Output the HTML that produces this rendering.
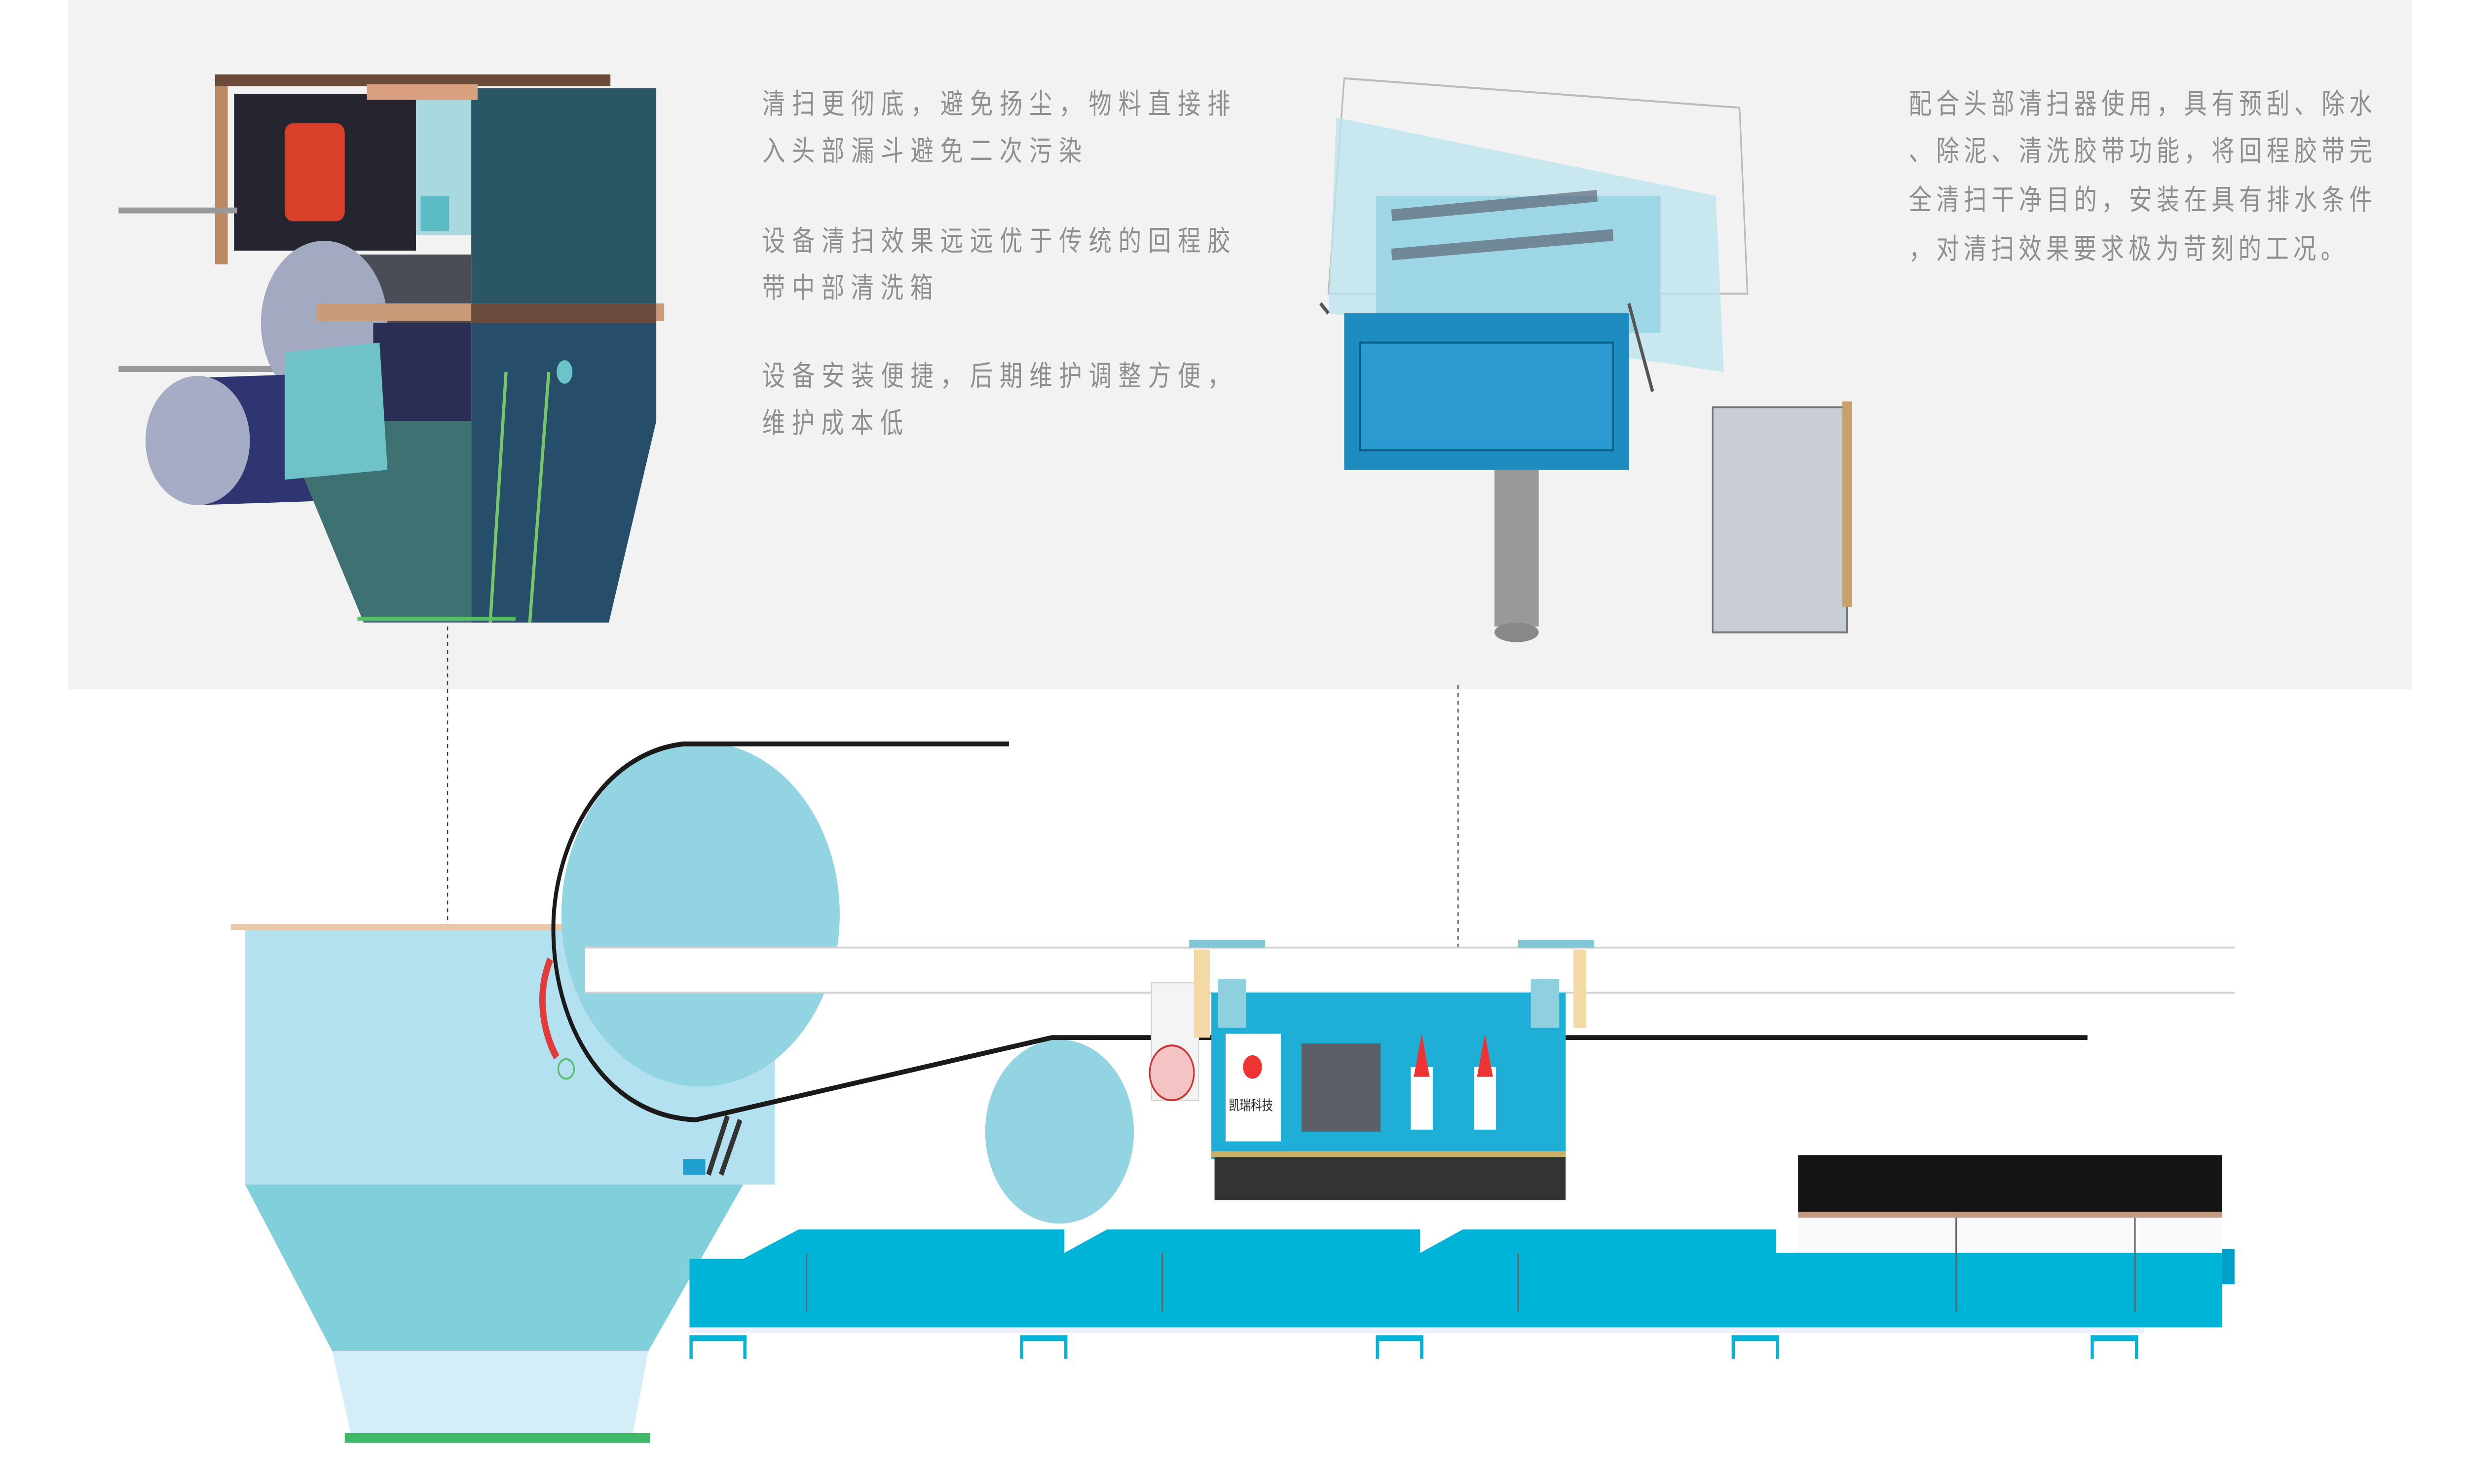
<!DOCTYPE html>
<html><head><meta charset="utf-8"><style>
html,body{margin:0;padding:0;background:#fff;width:100%;height:100%;overflow:hidden;}
svg{display:block;position:fixed;left:0;top:0;width:100vw;height:100vh;}
text{font-family:"Liberation Sans","Noto Sans CJK SC",sans-serif;fill:#8f8f8f;font-size:14.5px;}
</style></head><body>
<svg viewBox="0 0 1560 758" preserveAspectRatio="none" xmlns="http://www.w3.org/2000/svg">
<rect x="0" y="0" width="1560" height="758" fill="#fff"/>
<rect x="43" y="0" width="1482" height="352" fill="#f2f2f2"/>

<rect x="136" y="40" width="8" height="95" fill="#b98a63"/>
<rect x="136" y="38" width="250" height="6" fill="#6a4a38"/>
<rect x="148" y="48" width="115" height="80" fill="#24252f"/>
<rect x="263" y="50" width="36" height="70" fill="#a9d8df"/>
<rect x="180" y="63" width="38" height="50" rx="5" fill="#d8402a"/>
<rect x="75" y="106" width="75" height="3" fill="#999"/>
<rect x="75" y="187" width="100" height="3" fill="#999"/>
<path d="M200 130 L298 130 L298 200 L200 200 Z" fill="#4a4d55"/>
<ellipse cx="205" cy="165" rx="40" ry="42" fill="#a2a9c1"/>
<path d="M125 193 L230 190 L235 255 L125 258 Z" fill="#2f3570"/>
<ellipse cx="125" cy="225" rx="33" ry="33" fill="#a6acc6"/>
<rect x="298" y="45" width="117" height="115" fill="#2b5666"/>
<rect x="200" y="155" width="220" height="9" fill="#c99b78"/>
<rect x="298" y="155" width="117" height="10" fill="#6b4b3c"/>
<path d="M298 165 L415 165 L415 215 L385 318 L298 318 Z" fill="#264d6a"/>
<path d="M240 215 L298 215 L298 318 L230 318 L190 240 Z" fill="#3e7171"/>
<rect x="236" y="165" width="62" height="50" fill="#2c2d55"/>
<path d="M180 180 L240 175 L245 240 L180 245 Z" fill="#6fc3c8"/>
<rect x="232" y="43" width="70" height="8" fill="#d8a07e"/>
<rect x="266" y="100" width="18" height="18" fill="#5cbcc6"/>
<path d="M320 190 L310 318 M347 190 L335 318" stroke="#79c66a" stroke-width="2"/>
<ellipse cx="357" cy="190" rx="5" ry="6" fill="#6cc4c8"/>
<rect x="226" y="315" width="100" height="2" fill="#5bbf6a"/>

<path d="M850 40 L1100 55 L1105 150 L840 150 Z" fill="none" stroke="#bbb" stroke-width="1"/>
<path d="M845 60 L1085 100 L1090 190 L840 160 Z" fill="#bde4ee" opacity="0.8"/>
<rect x="870" y="100" width="180" height="70" fill="#9dd6e4"/>
<path d="M880 110 L1010 100 M880 130 L1020 120" stroke="#556" stroke-width="6" opacity="0.6"/>
<rect x="850" y="160" width="180" height="80" fill="#1e8cc0"/>
<rect x="860" y="175" width="160" height="55" fill="#2a9ad0" stroke="#0b5c85" stroke-width="1"/>
<rect x="945" y="240" width="28" height="80" fill="#999"/>
<ellipse cx="959" cy="323" rx="14" ry="5" fill="#888"/>
<rect x="1083" y="208" width="85" height="115" fill="#c9ced6" stroke="#777" stroke-width="1"/>
<rect x="1165" y="205" width="6" height="105" fill="#c9a06a"/>
<path d="M835 155 L840 160 M1030 155 L1045 200" stroke="#555" stroke-width="2"/>

<text x="482" y="58" textLength="296" lengthAdjust="spacing">清扫更彻底，避免扬尘，物料直接排</text>
<text x="482" y="82" textLength="202" lengthAdjust="spacing">入头部漏斗避免二次污染</text>
<text x="482" y="128" textLength="296" lengthAdjust="spacing">设备清扫效果远远优于传统的回程胶</text>
<text x="482" y="152" textLength="108" lengthAdjust="spacing">带中部清洗箱</text>
<text x="482" y="197" textLength="296" lengthAdjust="spacing">设备安装便捷，后期维护调整方便，</text>
<text x="482" y="221" textLength="89" lengthAdjust="spacing">维护成本低</text>
<text x="1207" y="58" textLength="293" lengthAdjust="spacing">配合头部清扫器使用，具有预刮、除水</text>
<text x="1207" y="82" textLength="293" lengthAdjust="spacing">、除泥、清洗胶带功能，将回程胶带完</text>
<text x="1207" y="107" textLength="293" lengthAdjust="spacing">全清扫干净目的，安装在具有排水条件</text>
<text x="1207" y="132" textLength="275" lengthAdjust="spacing">，对清扫效果要求极为苛刻的工况。</text>

<line x1="283" y1="320" x2="283" y2="510" stroke="#444" stroke-width="0.8" stroke-dasharray="2,2"/>
<line x1="922" y1="350" x2="922" y2="510" stroke="#444" stroke-width="0.8" stroke-dasharray="2,2"/>

<rect x="146" y="472" width="225" height="3" fill="#e8c8a8"/>
<path d="M155 475 L410 475 L490 480 L490 605 L155 605 Z" fill="#b3e1ef"/>
<path d="M155 605 L470 605 L410 690 L210 690 Z" fill="#80d0dc"/>
<path d="M210 690 L410 690 L400 733 L222 733 Z" fill="#d3eef7"/>
<rect x="218" y="732" width="193" height="5" fill="#3fb868"/>

<circle cx="443" cy="467" r="88" fill="#93d4e2"/>
<ellipse cx="670" cy="578" rx="47" ry="47" fill="#93d4e2"/>
<rect x="370" y="484" width="1043" height="23" fill="#fff"/>
<line x1="370" y1="484" x2="1413" y2="484" stroke="#d0d0d0" stroke-width="1"/>
<line x1="370" y1="507" x2="1413" y2="507" stroke="#d0d0d0" stroke-width="1"/>
<path d="M638 380 L432 380 C380 385 352 430 350 470 C348 520 380 570 440 572 L665 530 L1320 530" fill="none" stroke="#1a1a1a" stroke-width="2.5"/>
<path d="M348 490 C338 510 345 530 352 540" stroke="#e03a3a" stroke-width="4" fill="none"/>
<circle cx="358" cy="546" r="5" fill="none" stroke="#5bb870" stroke-width="1"/>
<path d="M460 570 L448 600 M468 572 L456 600" stroke="#333" stroke-width="3"/>
<rect x="432" y="592" width="14" height="8" fill="#1e9fd0"/>

<rect x="728" y="502" width="30" height="60" fill="#f4f4f4" stroke="#ccc" stroke-width="0.5"/>
<ellipse cx="741" cy="548" rx="14" ry="14" fill="#f4c4c4" stroke="#c33" stroke-width="1"/>
<rect x="766" y="507" width="224" height="85" fill="#1eaed6"/>
<rect x="755" y="485" width="10" height="45" fill="#f3d9a6"/>
<rect x="995" y="485" width="8" height="40" fill="#f3d9a6"/>
<rect x="770" y="500" width="18" height="25" fill="#8fd0de"/>
<rect x="968" y="500" width="18" height="25" fill="#8fd0de"/>
<rect x="752" y="480" width="48" height="4" fill="#7fc6d6"/>
<rect x="960" y="480" width="48" height="4" fill="#7fc6d6"/>
<rect x="775" y="528" width="35" height="55" fill="#fff"/>
<circle cx="792" cy="545" r="6" fill="#e33"/>
<text x="777" y="567" style="font-size:7px;fill:#222;">凯瑞科技</text>
<rect x="823" y="533" width="50" height="45" fill="#5a5f66"/>
<rect x="892" y="545" width="14" height="32" fill="#fff"/>
<rect x="932" y="545" width="14" height="32" fill="#fff"/>
<path d="M899 528 L894 550 L904 550 Z M939 528 L934 550 L944 550 Z" fill="#e33"/>
<rect x="766" y="588" width="224" height="3" fill="#c8b06a"/>
<rect x="768" y="591" width="222" height="22" fill="#333"/>

<rect x="1137" y="590" width="268" height="29" fill="#141414"/>
<rect x="1137" y="619" width="268" height="3" fill="#c49a80"/>
<rect x="1137" y="622" width="268" height="22" fill="#fafafa"/>

<path d="M436 643 L470 643 L505 628 L673 628 L673 640 L700 628 L898 628 L898 640 L925 628 L1123 628 L1123 640 L1130 640 L1405 640 L1405 678 L436 678 Z" fill="#00b4d8"/>
<rect x="1405" y="638" width="8" height="18" fill="#00a0c8"/>
<rect x="436" y="678" width="920" height="3" fill="#eef"/>
<g fill="#00b4d8">
<rect x="436" y="682" width="36" height="3"/><rect x="436" y="682" width="2" height="12"/><rect x="470" y="682" width="2" height="12"/>
<rect x="645" y="682" width="30" height="3"/><rect x="645" y="682" width="2" height="12"/><rect x="673" y="682" width="2" height="12"/>
<rect x="870" y="682" width="30" height="3"/><rect x="870" y="682" width="2" height="12"/><rect x="898" y="682" width="2" height="12"/>
<rect x="1095" y="682" width="30" height="3"/><rect x="1095" y="682" width="2" height="12"/><rect x="1123" y="682" width="2" height="12"/>
<rect x="1322" y="682" width="30" height="3"/><rect x="1322" y="682" width="2" height="12"/><rect x="1350" y="682" width="2" height="12"/>
</g>
<g stroke="#666" stroke-width="1">
<line x1="510" y1="640" x2="510" y2="670"/><line x1="735" y1="640" x2="735" y2="670"/><line x1="960" y1="640" x2="960" y2="670"/>
<line x1="1237" y1="622" x2="1237" y2="670"/><line x1="1350" y1="622" x2="1350" y2="670"/>
</g>
</svg>
</body></html>
